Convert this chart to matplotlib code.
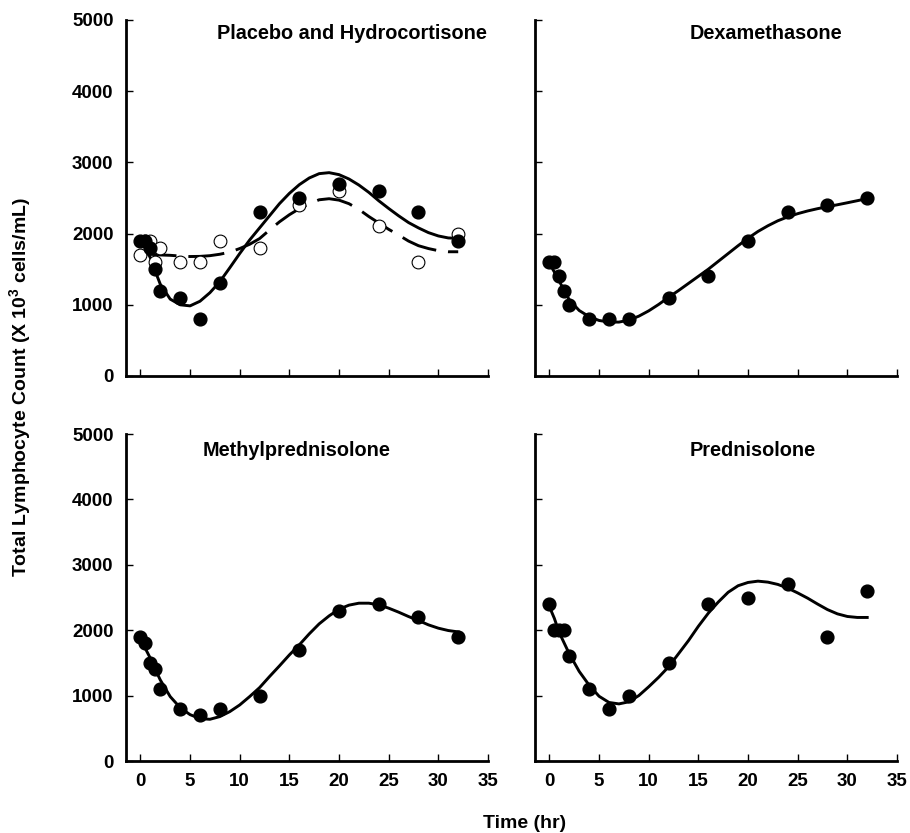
import matplotlib
matplotlib.use("Agg")
import matplotlib.pyplot as plt

plt.rcParams['font.family'] = ['Liberation Sans', 'DejaVu Sans']
plt.rcParams['font.weight'] = 'bold'

# sampling times of the measurements (hr)
t_obs = [0, 0.5, 1, 1.5, 2, 4, 6, 8, 12, 16, 20, 24, 28, 32]

# observed counts (x 10^3 cells/mL)
placebo_obs = [1900, 1900, 1800, 1500, 1200, 1100, 800, 1300, 2300, 2500, 2700, 2600, 2300, 1900]
hydro_obs = [1700, 1900, 1900, 1600, 1800, 1600, 1600, 1900, 1800, 2400, 2600, 2100, 1600, 2000]
dexa_obs = [1600, 1600, 1400, 1200, 1000, 800, 800, 800, 1100, 1400, 1900, 2300, 2400, 2500]
methyl_obs = [1900, 1800, 1500, 1400, 1100, 800, 700, 800, 1000, 1700, 2300, 2400, 2200, 1900]
pred_obs = [2400, 2000, 2000, 2000, 1600, 1100, 800, 1000, 1500, 2400, 2500, 2700, 1900, 2600]

# fitted curves
t_fit = [0, 0.5, 1, 1.5, 2, 3, 4, 5, 6, 7, 8, 9, 10, 11, 12, 13, 14, 15, 16, 17,
         18, 19, 20, 21, 22, 23, 24, 25, 26, 27, 28, 29, 30, 31, 32]
placebo_fit = [1920, 1800, 1660, 1470, 1290, 1080, 1000, 985, 1050, 1170, 1325, 1520,
               1720, 1910, 2080, 2250, 2420, 2565, 2687, 2781, 2842, 2856, 2828, 2767,
               2682, 2579, 2461, 2353, 2250, 2155, 2080, 2014, 1967, 1939, 1934]
hydro_fit = [1720, 1715, 1710, 1705, 1700, 1695, 1685, 1678, 1680, 1690, 1710, 1740,
             1790, 1850, 1930, 2050, 2165, 2265, 2350, 2420, 2475, 2490, 2470, 2420,
             2340, 2240, 2150, 2060, 1980, 1895, 1830, 1790, 1760, 1745, 1745]
dexa_fit = [1580, 1460, 1330, 1200, 1070, 920, 833, 780, 758, 757, 785, 840, 915,
            1005, 1105, 1200, 1300, 1400, 1500, 1610, 1720, 1830, 1935, 2030, 2110,
            2180, 2235, 2280, 2318, 2350, 2378, 2405, 2433, 2462, 2492]
methyl_fit = [1862, 1720, 1571, 1400, 1240, 985, 816, 709, 648, 638, 679, 755, 857,
              985, 1122, 1291, 1454, 1622, 1776, 1944, 2097, 2219, 2321, 2383, 2413,
              2413, 2388, 2337, 2276, 2209, 2148, 2082, 2031, 1995, 1974]
pred_fit = [2360, 2180, 1960, 1800, 1640, 1370, 1160, 990, 895, 873, 905, 1000, 1135,
            1280, 1440, 1640, 1840, 2060, 2260, 2430, 2580, 2680, 2730, 2750, 2735,
            2700, 2643, 2570, 2490, 2400, 2315, 2250, 2210, 2195, 2195]

titles = ['Placebo and Hydrocortisone', 'Dexamethasone', 'Methylprednisolone', 'Prednisolone']
x_ticks = [0, 5, 10, 15, 20, 25, 30, 35]
y_ticks = [0, 1000, 2000, 3000, 4000, 5000]

fig = plt.figure(figsize=(9.1, 8.33), dpi=100)
W, H = 910, 833


def make_axes(left, top, right, bottom):
    return fig.add_axes([left / W, 1 - bottom / H, (right - left) / W, (bottom - top) / H])


ax_tl = make_axes(126, 20, 488, 376)
ax_tr = make_axes(535, 20, 897, 376)
ax_bl = make_axes(126, 434, 488, 761)
ax_br = make_axes(535, 434, 897, 761)
axes = [ax_tl, ax_tr, ax_bl, ax_br]

ms = 9.2
for ax in axes:
    ax.set_xlim(-1.45, 35)
    ax.set_ylim(0, 5000)
    ax.set_xticks(x_ticks)
    ax.set_yticks(y_ticks)
    ax.spines['top'].set_visible(False)
    ax.spines['right'].set_visible(False)
    for s in ['left', 'bottom']:
        ax.spines[s].set_linewidth(2)
    ax.tick_params(direction='in', length=5, width=1, labelsize=13.5, pad=9)

# Placebo (filled) and hydrocortisone (open)
ax_tl.plot(t_obs, hydro_obs, 'o', ms=ms, mfc='white', mec='black', mew=0.8, zorder=3)
ax_tl.plot(t_obs, placebo_obs, 'o', ms=ms, color='black', zorder=4)
ax_tl.plot(t_fit, placebo_fit, '-', color='black', lw=2.1)
dash_line, = ax_tl.plot(t_fit, hydro_fit, color='black', lw=2.1)
dash_line.set_dashes([26 / 2.1, 8.6 / 2.1])

ax_tr.plot(t_obs, dexa_obs, 'o', ms=ms, color='black', zorder=4)
ax_tr.plot(t_fit, dexa_fit, '-', color='black', lw=2.1)

ax_bl.plot(t_obs, methyl_obs, 'o', ms=ms, color='black', zorder=4)
ax_bl.plot(t_fit, methyl_fit, '-', color='black', lw=2.1)

ax_br.plot(t_obs, pred_obs, 'o', ms=ms, color='black', zorder=4)
ax_br.plot(t_fit, pred_fit, '-', color='black', lw=2.1)

for ax in [ax_tl, ax_tr]:
    ax.tick_params(labelbottom=False)
for ax in [ax_tr, ax_br]:
    ax.tick_params(labelleft=False)

title_pos = [(0.624, 0.963), (0.638, 0.963), (0.472, 0.951), (0.602, 0.951)]
for ax, title, (xp, yp) in zip(axes, titles, title_pos):
    ax.text(xp, yp, title, transform=ax.transAxes, ha='center', va='center',
            fontsize=14.3, fontweight='bold')

fig.text(0.022, 0.535, r'Total Lymphocyte Count (X 10$\mathregular{^3}$ cells/mL)',
         rotation=90, ha='center', va='center', fontsize=14, fontweight='bold')
fig.text(0.5764, 0.012, 'Time (hr)', ha='center', va='center', fontsize=14,
         fontweight='bold')

fig.savefig('out.png', dpi=100)
